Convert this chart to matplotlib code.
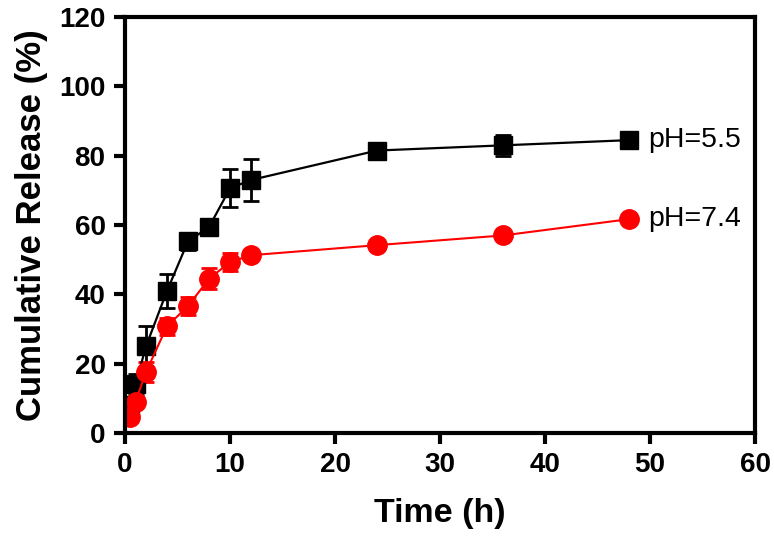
import numpy as np
import matplotlib
matplotlib.use("Agg")
import matplotlib.pyplot as plt

plt.rcParams['font.family'] = ['Liberation Sans', 'DejaVu Sans']

time_h = [0.5, 1, 2, 4, 6, 8, 10, 12, 24, 36, 48]

# pH 5.5
release_55 = [8, 14, 25, 41, 55.3, 59.4, 70.6, 73, 81.5, 83, 84.5]
err_55 = [2, 3, 6, 5, 2.5, 1, 5.5, 6, 2, 3, 1]

# pH 7.4
release_74 = [4.5, 9, 17.6, 30.8, 36.6, 44.5, 49.3, 51.3, 54.2, 57, 61.7]
err_74 = [1, 1, 3, 2.5, 2.5, 3, 2.5, 1, 1, 1, 1]

labels = ['pH=5.5', 'pH=7.4']

fig = plt.figure(figsize=(7.74, 5.52), dpi=100)
ax = fig.add_axes([0.1615, 0.2156, 0.8140, 0.7534])

ax.errorbar(time_h, release_55, yerr=err_55, color='black', marker='s',
            markersize=13, linewidth=1.6, elinewidth=2, capsize=6, capthick=2)
ax.errorbar(time_h, release_74, yerr=err_74, color='#ff0000', marker='o',
            markersize=14, linewidth=1.5, elinewidth=2, capsize=6, capthick=2)

ax.text(time_h[-1] + 1.8, release_55[-1], labels[0], fontsize=20.5,
        va='center', ha='left')
ax.text(time_h[-1] + 1.8, release_74[-1], labels[1], fontsize=20.5,
        va='center', ha='left')

ax.set_xlim(0, 60)
ax.set_ylim(0, 120)
ax.set_xticks(np.arange(0, 61, 10))
ax.set_yticks(np.arange(0, 121, 20))

for s in ax.spines.values():
    s.set_linewidth(3)
ax.tick_params(width=3, length=8, labelsize=20, pad=6)
for lbl in ax.get_xticklabels() + ax.get_yticklabels():
    lbl.set_fontweight('bold')

ax.set_xlabel('Time (h)', fontsize=24.5, fontweight='bold', labelpad=14)
ax.set_ylabel('Cumulative Release (%)', fontsize=25, fontweight='bold',
              labelpad=8)

fig.savefig('out.png', dpi=100)
